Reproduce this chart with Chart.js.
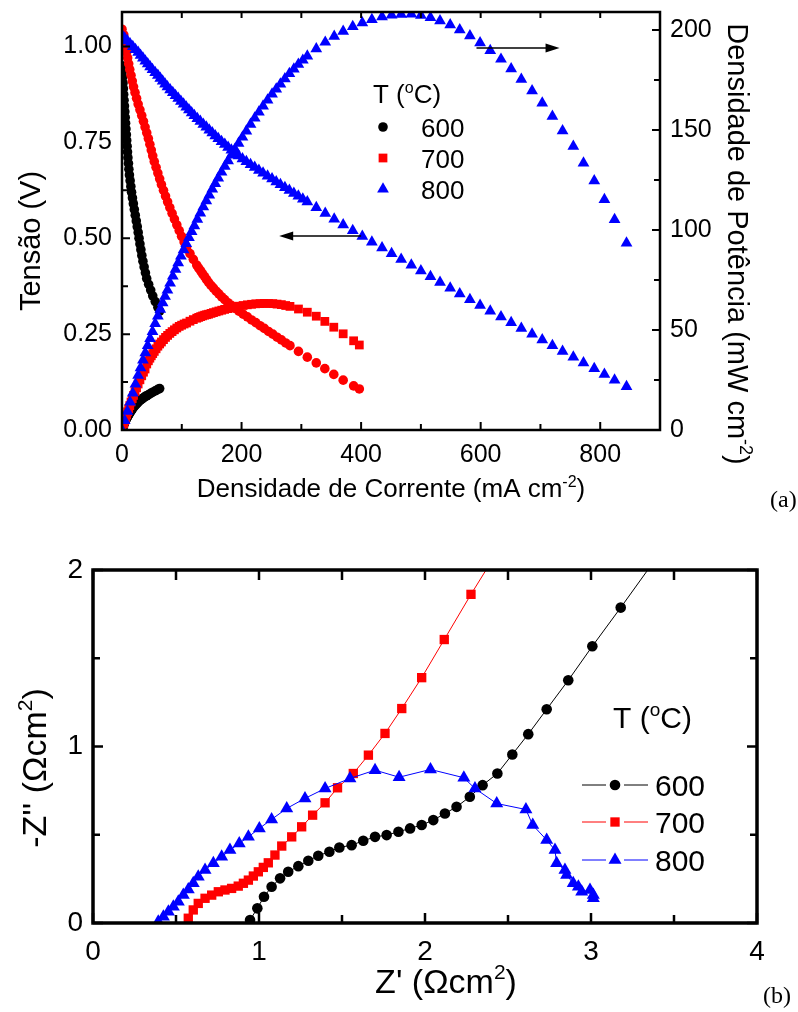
<!DOCTYPE html>
<html>
<head>
<meta charset="utf-8">
<script src="https://cdn.jsdelivr.net/npm/chart.js@4.4.1/dist/chart.umd.min.js"></script>
<style>
  html, body { margin: 0; padding: 0; background: #fff; }
  #wrap { position: relative; width: 798px; height: 1012px; }
  canvas { position: absolute; left: 0; }
  #chartA { top: 0; }
  #chartB { top: 530px; }
</style>
</head>
<body>
<div id="wrap">
  <canvas id="chartA" width="798" height="520"></canvas>
  <canvas id="chartB" width="798" height="482"></canvas>
</div>
<script>
// ==== Data (a): polarisation curves, J in mA cm-2, V in volts, P in mW cm-2 ====
const j600 = [0, 0.6, 1.1, 1.7, 2.3, 2.8, 3.4, 4.1, 4.7, 5.4, 6.0, 6.6, 7.3, 7.9, 8.6, 9.2, 9.9, 10.8, 11.5, 12.4,
  13.6, 14.8, 16, 17.5, 19, 20.6, 22.2, 23.9, 25.5, 27.1, 28.5, 30, 31.6, 33.2, 35, 37, 39.2, 41.3, 44.6, 48,
  51.4, 55.6, 60, 63];
const v600 = [0.95, 0.935, 0.92, 0.905, 0.89, 0.875, 0.86, 0.845, 0.83, 0.815, 0.80, 0.785, 0.77, 0.755, 0.74,
  0.725, 0.71, 0.695, 0.68, 0.665, 0.65, 0.635, 0.62, 0.605, 0.59, 0.575, 0.56, 0.545, 0.53, 0.515, 0.50, 0.485,
  0.47, 0.455, 0.44, 0.425, 0.41, 0.395, 0.38, 0.365, 0.35, 0.335, 0.32, 0.31];
const p600 = [0, 0.56, 1.0, 1.5, 2.0, 2.5, 2.9, 3.5, 3.9, 4.4, 4.8, 5.2, 5.6, 6.0, 6.4, 6.7, 7.0, 7.5, 7.8, 8.3,
  8.8, 9.4, 9.9, 10.6, 11.2, 11.8, 12.4, 13.0, 13.5, 14.0, 14.4, 14.8, 15.2, 15.5, 15.9, 16.3, 16.8, 17.1, 17.7,
  18.3, 18.9, 19.6, 20.3, 20.7];

const j700 = [0, 3, 4.5, 6, 7.7, 9.4, 11.2, 13, 15.1, 17.2, 19.3, 21.8, 24.4, 27, 30, 33, 35.9, 38.6, 41.4, 44.1,
  46.6, 49, 51.4, 54, 57, 60, 63, 66, 69.4, 72.8, 76.3, 80, 83.8, 87.7, 91.7, 95.7, 99.7, 103.9, 108, 113.7,
  119.3, 125, 128.3, 131.6, 134.9, 138.2, 141.5, 144.8, 148.9, 153, 157.5, 162, 166.8, 171.7, 177.2, 182.8,
  189.1, 195.5, 202.6, 209.7, 216.7, 223.8, 230.9, 238, 245.1, 252.3, 259.4, 266.6, 273.8, 281, 295.2, 310, 325,
  339.3, 354.3, 370, 387.5, 397];
const v700 = [1.045, 1.03, 1.015, 1.0, 0.985, 0.97, 0.955, 0.94, 0.925, 0.91, 0.895, 0.88, 0.865, 0.85, 0.835,
  0.82, 0.805, 0.79, 0.775, 0.76, 0.745, 0.73, 0.715, 0.70, 0.685, 0.67, 0.655, 0.64, 0.625, 0.61, 0.595, 0.58,
  0.565, 0.55, 0.535, 0.52, 0.505, 0.49, 0.475, 0.46, 0.445, 0.43, 0.422, 0.415, 0.407, 0.40, 0.392, 0.385,
  0.377, 0.37, 0.362, 0.355, 0.347, 0.34, 0.332, 0.325, 0.317, 0.31, 0.302, 0.295, 0.287, 0.28, 0.272, 0.265,
  0.257, 0.25, 0.242, 0.235, 0.227, 0.22, 0.205, 0.19, 0.175, 0.16, 0.145, 0.13, 0.115, 0.107];
const p700 = [0, 3.1, 4.6, 6.0, 7.6, 9.1, 10.7, 12.2, 14.0, 15.7, 17.3, 19.2, 21.1, 23.0, 25.1, 27.1, 28.9, 30.5,
  33.0, 34.6, 35.9, 37.1, 38.2, 39.3, 40.6, 41.9, 43.0, 44.0, 45.2, 46.3, 47.3, 48.3, 49.2, 50.1, 51.0, 51.8,
  52.4, 53.0, 53.5, 54.4, 55.2, 55.9, 56.3, 56.7, 57.05, 57.4, 57.65, 57.9, 58.3, 58.7, 59.1, 59.5, 59.9, 60.3,
  60.7, 61.1, 61.5, 61.9, 62.25, 62.6, 62.85, 63.1, 63.2, 63.3, 63.25, 63.2, 62.95, 62.7, 62.25, 61.8, 60.5,
  58.9, 56.9, 54.3, 51.4, 48.1, 44.6, 42.5];

const j800 = [0, 4.5, 9, 13.5, 18, 22.5, 27, 31, 35, 39, 43, 47, 51, 55.5, 60, 64, 68, 72, 76, 80.5, 85, 89.5,
  94, 98.5, 103, 107.5, 112, 116.5, 121, 126, 131, 136, 141, 146, 151, 156, 161, 166.5, 172, 177.5, 183, 189,
  195, 201.5, 208, 215, 222, 229, 236, 243.5, 251, 258, 265, 272.5, 280, 287.5, 295, 302.5, 310, 325, 340, 355,
  370, 386, 402, 418, 435, 451, 467, 484, 500, 516, 532, 549, 565, 582, 599, 616, 634, 651, 668, 686, 703, 720,
  737, 755, 772, 790, 807, 824, 844];
const v800 = [1.03, 1.022, 1.015, 1.007, 1.0, 0.992, 0.985, 0.977, 0.97, 0.962, 0.955, 0.947, 0.94, 0.932, 0.925,
  0.917, 0.91, 0.902, 0.895, 0.887, 0.88, 0.872, 0.865, 0.857, 0.85, 0.842, 0.835, 0.827, 0.82, 0.812, 0.805,
  0.797, 0.79, 0.782, 0.775, 0.767, 0.76, 0.752, 0.745, 0.737, 0.73, 0.722, 0.715, 0.707, 0.70, 0.692, 0.685,
  0.677, 0.67, 0.662, 0.655, 0.647, 0.64, 0.632, 0.625, 0.617, 0.61, 0.602, 0.595, 0.58, 0.565, 0.55, 0.535,
  0.52, 0.505, 0.49, 0.475, 0.46, 0.445, 0.43, 0.415, 0.40, 0.385, 0.37, 0.355, 0.34, 0.325, 0.31, 0.295, 0.28,
  0.265, 0.25, 0.235, 0.22, 0.205, 0.19, 0.175, 0.16, 0.145, 0.13, 0.113];
const p800 = [0, 4.7, 9.3, 13.9, 18.4, 22.9, 27.3, 31.1, 34.9, 38.6, 42.2, 45.7, 49.2, 53.2, 57.0, 60.3, 63.6,
  66.8, 69.9, 73.4, 76.9, 80.3, 83.6, 86.9, 90.1, 93.2, 96.2, 99.2, 102.1, 105.3, 108.5, 111.6, 114.6, 117.5,
  120.4, 123.2, 126.0, 128.9, 131.8, 134.6, 137.4, 140.4, 143.3, 146.4, 149.5, 152.8, 156.0, 159.0, 162.0, 165.0,
  168.0, 170.5, 173.0, 175.6, 178.2, 180.5, 182.8, 184.9, 187.0, 190.6, 193.9, 196.8, 199.3, 201.7, 203.6, 205.2,
  206.6, 207.4, 207.8, 207.9, 207.3, 206.2, 204.6, 202.6, 200.1, 197.1, 193.6, 189.7, 185.4, 180.6, 175.3, 169.6,
  163.5, 156.8, 149.6, 141.8, 133.5, 124.6, 115.2, 105.2, 93.5];

// ==== Data (b): impedance spectra, Z' and -Z'' in ohm cm2 ====
const zre600 = [0.946, 0.99, 1.03, 1.076, 1.127, 1.176, 1.237, 1.297, 1.357, 1.424, 1.484, 1.558, 1.628, 1.699,
  1.769, 1.84, 1.91, 1.98, 2.05, 2.12, 2.19, 2.27, 2.347, 2.436, 2.526, 2.622, 2.733, 2.863, 3.008, 3.179, 3.38];
const zim600 = [0.017, 0.083, 0.149, 0.205, 0.253, 0.29, 0.322, 0.353, 0.381, 0.404, 0.428, 0.441, 0.466, 0.488,
  0.498, 0.517, 0.536, 0.555, 0.583, 0.62, 0.658, 0.715, 0.781, 0.847, 0.955, 1.07, 1.211, 1.375, 1.568, 1.787, 2.05];
const zre700 = [0.574, 0.604, 0.634, 0.675, 0.715, 0.755, 0.795, 0.835, 0.875, 0.906, 0.936, 0.966, 0.996, 1.026,
  1.056, 1.096, 1.137, 1.197, 1.257, 1.323, 1.398, 1.473, 1.568, 1.659, 1.759, 1.86, 1.98, 2.116, 2.277, 2.44];
const zim700 = [0.027, 0.074, 0.111, 0.14, 0.158, 0.177, 0.187, 0.196, 0.209, 0.225, 0.243, 0.266, 0.29, 0.315,
  0.341, 0.385, 0.436, 0.488, 0.545, 0.611, 0.681, 0.766, 0.847, 0.951, 1.074, 1.215, 1.39, 1.606, 1.862, 2.11];
const zre800 = [0.393, 0.424, 0.454, 0.484, 0.514, 0.544, 0.574, 0.604, 0.634, 0.675, 0.725, 0.775, 0.825, 0.881,
  0.936, 1.002, 1.076, 1.167, 1.277, 1.398, 1.548, 1.699, 1.844, 2.033, 2.234, 2.301, 2.432, 2.608, 2.649, 2.733,
  2.783, 2.793, 2.843, 2.853, 2.893, 2.924, 2.944, 2.994, 3.014, 3.014];
const zim800 = [0.007, 0.036, 0.064, 0.092, 0.121, 0.158, 0.19, 0.225, 0.262, 0.3, 0.338, 0.375, 0.413, 0.451,
  0.488, 0.536, 0.587, 0.649, 0.706, 0.762, 0.819, 0.866, 0.826, 0.87, 0.823, 0.762, 0.677, 0.643, 0.555, 0.47,
  0.413, 0.338, 0.3, 0.272, 0.225, 0.205, 0.177, 0.187, 0.158, 0.14];

// ==== Ticks ====
const ticksJ = [0, 200, 400, 600, 800];
const minorJ = [100, 300, 500, 700, 900];
const ticksV = [0, 0.25, 0.5, 0.75, 1.0];
const minorV = [0.125, 0.375, 0.625, 0.875];
const ticksP = [0, 50, 100, 150, 200];
const minorP = [25, 75, 125, 175];
const ticksZre = [0, 1, 2, 3, 4];
const minorZre = [0.5, 1.5, 2.5, 3.5];
const ticksZim = [0, 1, 2];
const minorZim = [0.5, 1.5];

const temps = ["600", "700", "800"];
// arrows: [from J, to J, level]
const arrowV = [400, 263, 0.506];
const arrowP = [593, 732, 191];

// ==== Styles ====
const FONT = "'Liberation Sans', Arial, sans-serif";
const SERIF = "'Liberation Serif', 'Times New Roman', serif";
const BLACK = "#000000", RED = "#ff0000", BLUE = "#0000ff";
const styleA = [
  { color: BLACK, shape: "circle", r: 4.8 },
  { color: RED, shape: "rect", r: 6.2 },
  { color: BLUE, shape: "triangle", r: 6.8 }
];
const styleB = [
  { color: BLACK, shape: "circle", r: 5.3 },
  { color: RED, shape: "rect", r: 6.6 },
  { color: BLUE, shape: "triangle", r: 7.5 }
];

const toPts = (xs, ys) => xs.map((x, i) => ({ x: x, y: ys[i] }));
const setTicks = list => axis => { axis.ticks = list.map(v => ({ value: v })); };

function richText(ctx, parts, x, y, size, angle, align) {
  ctx.save();
  ctx.translate(x, y);
  ctx.rotate(angle || 0);
  ctx.textBaseline = "alphabetic";
  ctx.textAlign = "left";
  const fonts = parts.map(p => (p[1] ? Math.round(size * 0.62) : size) + "px " + FONT);
  const widths = parts.map((p, i) => { ctx.font = fonts[i]; return ctx.measureText(p[0]).width; });
  const total = widths.reduce((s, w) => s + w, 0);
  let cx = align === "left" ? 0 : -total / 2;
  parts.forEach((p, i) => {
    ctx.font = fonts[i];
    ctx.fillText(p[0], cx, p[1] ? -size * 0.4 : 0);
    cx += widths[i];
  });
  ctx.restore();
}

function tickMarks(ctx, scale, values, side, area, len) {
  ctx.beginPath();
  values.forEach(v => {
    const p = scale.getPixelForValue(v);
    if (side === "bottom") { ctx.moveTo(p, area.bottom); ctx.lineTo(p, area.bottom - len); }
    if (side === "top") { ctx.moveTo(p, area.top); ctx.lineTo(p, area.top + len); }
    if (side === "left") { ctx.moveTo(area.left, p); ctx.lineTo(area.left + len, p); }
    if (side === "right") { ctx.moveTo(area.right, p); ctx.lineTo(area.right - len, p); }
  });
  ctx.stroke();
}

function marker(ctx, st, x, y) {
  ctx.fillStyle = st.color;
  Chart.helpers.drawPoint(ctx, { pointStyle: st.shape, radius: st.r, rotation: 0, borderWidth: 0 }, x, y);
}

function arrow(ctx, x1, x2, y) {
  const dir = x2 > x1 ? 1 : -1;
  ctx.lineWidth = 1.5;
  ctx.beginPath();
  ctx.moveTo(x1, y);
  ctx.lineTo(x2 - dir * 10, y);
  ctx.stroke();
  ctx.beginPath();
  ctx.moveTo(x2, y);
  ctx.lineTo(x2 - dir * 14, y - 4.5);
  ctx.lineTo(x2 - dir * 14, y + 4.5);
  ctx.closePath();
  ctx.fill();
}

// ==== Decorations (a) ====
function drawDecorA(chart) {
  const ctx = chart.ctx, a = chart.chartArea;
  const sx = chart.scales.x, sy = chart.scales.y, sp = chart.scales.y1;
  ctx.save();
  ctx.strokeStyle = BLACK;
  ctx.fillStyle = BLACK;
  ctx.lineWidth = 2;
  tickMarks(ctx, sx, ticksJ, "bottom", a, 8);
  tickMarks(ctx, sx, minorJ, "bottom", a, 6);
  tickMarks(ctx, sx, ticksJ.concat(minorJ), "top", a, 6);
  tickMarks(ctx, sy, ticksV, "left", a, 8);
  tickMarks(ctx, sy, minorV, "left", a, 6);
  tickMarks(ctx, sp, ticksP, "right", a, 8);
  tickMarks(ctx, sp, minorP, "right", a, 6);
  ctx.lineWidth = 2.5;
  ctx.strokeRect(a.left, a.top, a.right - a.left, a.bottom - a.top);

  arrow(ctx, sx.getPixelForValue(arrowV[0]), sx.getPixelForValue(arrowV[1]), sy.getPixelForValue(arrowV[2]));
  arrow(ctx, sx.getPixelForValue(arrowP[0]), sx.getPixelForValue(arrowP[1]), sp.getPixelForValue(arrowP[2]));

  ctx.fillStyle = BLACK;
  richText(ctx, [["Densidade de Corrente (mA cm", 0], ["-2", 1], [")", 0]], 391, 497, 26, 0);
  richText(ctx, [["Tensão (V)", 0]], 40, 241, 29, -Math.PI / 2);
  richText(ctx, [["Densidade de Potência (mW cm", 0], ["-2", 1], [")", 0]], 728, 244, 29, Math.PI / 2);

  // legend
  richText(ctx, [["T (", 0], ["o", 1], ["C)", 0]], 373, 103, 26, 0, "left");
  const rows = [127, 158, 189];
  temps.forEach((t, i) => {
    marker(ctx, styleA[i], 383, rows[i]);
    ctx.fillStyle = BLACK;
    richText(ctx, [[t, 0]], 421, rows[i] + 9.5, 26, 0, "left");
  });

  ctx.font = "24px " + SERIF;
  ctx.textAlign = "left";
  ctx.textBaseline = "alphabetic";
  ctx.fillText("(a)", 770, 507);
  ctx.restore();
}

// ==== Decorations (b) ====
function drawDecorB(chart) {
  const ctx = chart.ctx, a = chart.chartArea;
  const sx = chart.scales.x, sy = chart.scales.y;
  ctx.save();
  ctx.strokeStyle = BLACK;
  ctx.fillStyle = BLACK;
  ctx.lineWidth = 2.5;
  tickMarks(ctx, sx, ticksZre, "bottom", a, 10);
  tickMarks(ctx, sx, minorZre, "bottom", a, 8);
  tickMarks(ctx, sx, ticksZre.concat(minorZre), "top", a, 10);
  tickMarks(ctx, sy, ticksZim, "left", a, 10);
  tickMarks(ctx, sy, minorZim, "left", a, 7);
  tickMarks(ctx, sy, ticksZim, "right", a, 10);
  tickMarks(ctx, sy, minorZim, "right", a, 7);
  ctx.lineWidth = 3.5;
  ctx.strokeRect(a.left, a.top, a.right - a.left, a.bottom - a.top);

  ctx.fillStyle = BLACK;
  richText(ctx, [["Z' (Ωcm", 0], ["2", 1], [")", 0]], 446, 463, 34, 0);
  richText(ctx, [["-Z'' (Ωcm", 0], ["2", 1], [")", 0]], 46, 238, 34, -Math.PI / 2);

  // legend
  richText(ctx, [["T (", 0], ["o", 1], ["C)", 0]], 613, 198, 30, 0, "left");
  const rows = [255, 292, 330];
  temps.forEach((t, i) => {
    ctx.strokeStyle = styleB[i].color;
    ctx.lineWidth = 1;
    ctx.beginPath();
    ctx.moveTo(582, rows[i]); ctx.lineTo(606, rows[i]);
    ctx.moveTo(624, rows[i]); ctx.lineTo(648, rows[i]);
    ctx.stroke();
    marker(ctx, styleB[i], 615, rows[i]);
    ctx.fillStyle = BLACK;
    richText(ctx, [[t, 0]], 655, rows[i] + 11, 30, 0, "left");
  });

  ctx.font = "24px " + SERIF;
  ctx.textAlign = "left";
  ctx.textBaseline = "alphabetic";
  ctx.fillText("(b)", 763, 473);
  ctx.restore();
}

function scatterSet(label, pts, st, axis, order, line) {
  return {
    label: label,
    data: pts,
    yAxisID: axis,
    showLine: !!line,
    borderColor: st.color,
    borderWidth: line ? 1 : 0,
    backgroundColor: st.color,
    pointBackgroundColor: st.color,
    pointBorderWidth: 0,
    pointStyle: st.shape,
    pointRadius: st.r,
    order: order
  };
}

const tickFont = size => ({ family: FONT, size: size });

function plainScale(position, min, max, list, fmt, size, pad, fit) {
  return {
    type: "linear",
    position: position,
    min: min,
    max: max,
    grid: { display: false, drawTicks: false },
    border: { display: false },
    ticks: { font: tickFont(size), color: BLACK, padding: pad, autoSkip: false, maxRotation: 0, callback: fmt },
    afterBuildTicks: setTicks(list),
    afterFit: fit
  };
}

// ==== Chart (a) ====
new Chart(document.getElementById("chartA"), {
  type: "scatter",
  data: {
    datasets: [
      scatterSet("800 V", toPts(j800, v800), styleA[2], "y", 1),
      scatterSet("800 P", toPts(j800, p800), styleA[2], "y1", 1),
      scatterSet("700 V", toPts(j700, v700), { color: RED, shape: "circle", r: 4.8 }, "y", 2),
      scatterSet("700 P", toPts(j700, p700), styleA[1], "y1", 2),
      scatterSet("600 V", toPts(j600, v600), styleA[0], "y", 3),
      scatterSet("600 P", toPts(j600, p600), styleA[0], "y1", 3)
    ]
  },
  options: {
    responsive: false,
    animation: false,
    devicePixelRatio: 1,
    events: [],
    layout: { padding: { top: 12, left: 0, right: 0, bottom: 0 } },
    plugins: { legend: { display: false }, tooltip: { enabled: false } },
    scales: {
      x: plainScale("bottom", 0, 900, ticksJ, v => String(v), 25, 10,
        s => { s.height = 90; s.paddingLeft = 0; s.paddingRight = 0; }),
      y: plainScale("left", 0, 1.09, ticksV, v => v.toFixed(2), 25, 10,
        s => { s.width = 122; s.paddingTop = 0; s.paddingBottom = 0; }),
      y1: plainScale("right", 0, 209, ticksP, v => String(v), 25, 10,
        s => { s.width = 138; s.paddingTop = 0; s.paddingBottom = 0; })
    }
  },
  plugins: [{ id: "decorA", afterDraw: drawDecorA }]
});

// ==== Chart (b) ====
new Chart(document.getElementById("chartB"), {
  type: "scatter",
  data: {
    datasets: [
      scatterSet("800", toPts(zre800, zim800), styleB[2], "y", 1, true),
      scatterSet("700", toPts(zre700, zim700), styleB[1], "y", 2, true),
      scatterSet("600", toPts(zre600, zim600), styleB[0], "y", 3, true)
    ]
  },
  options: {
    responsive: false,
    animation: false,
    devicePixelRatio: 1,
    events: [],
    layout: { padding: { top: 40, left: 0, right: 41, bottom: 0 } },
    plugins: { legend: { display: false }, tooltip: { enabled: false } },
    scales: {
      x: plainScale("bottom", 0, 4, ticksZre, v => String(v), 28, 12,
        s => { s.height = 89; s.paddingLeft = 0; s.paddingRight = 0; }),
      y: plainScale("left", 0, 2, ticksZim, v => String(v), 28, 10,
        s => { s.width = 93; s.paddingTop = 0; s.paddingBottom = 0; })
    }
  },
  plugins: [{ id: "decorB", afterDraw: drawDecorB }]
});
</script>
</body>
</html>
